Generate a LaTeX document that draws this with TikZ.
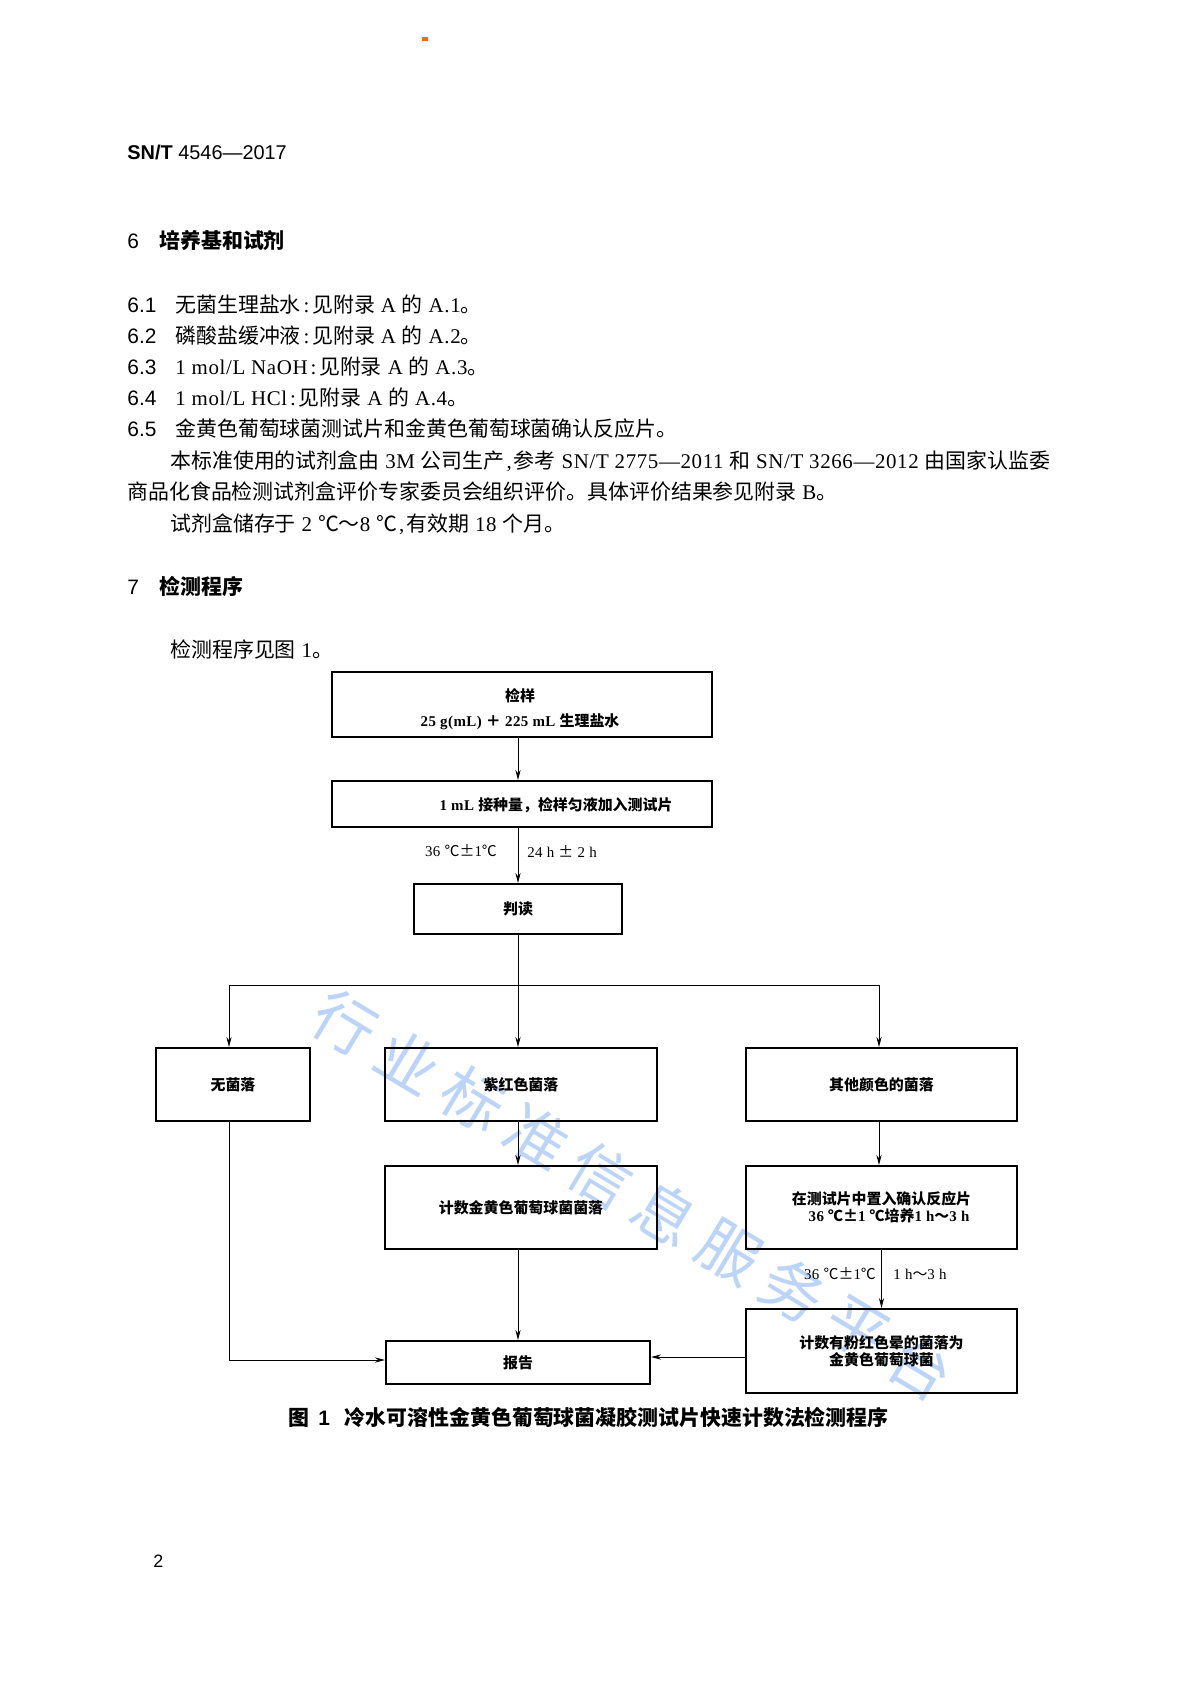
\documentclass[tikz,border=0pt]{standalone}
\usepackage{fontspec}
\setmainfont{Noto Sans CJK SC}
\newfontfamily\lser[LetterSpace=3]{Liberation Serif}
\newfontfamily\lsans{Liberation Sans}
\newcommand\lt[1]{{\lser #1}}
\newcommand\hcolon{\makebox[0.55em][c]{\lt{:}}}
\newcommand\hcomma{\makebox[0.45em][c]{\lt{,}}}
\usetikzlibrary{arrows.meta,calc}
\definecolor{wmcol}{RGB}{188,212,247}
\definecolor{markcol}{RGB}{255,102,20}
\newcommand\pxu{0.50206pt}
\begin{document}
\begin{tikzpicture}[x=0.17647mm,y=-0.17647mm,
 body/.style={anchor=base west, inner sep=0, font=\fontsize{10.5}{12}\selectfont},
 head/.style={anchor=base west, inner sep=0, font=\fontsize{10.5}{12}\selectfont\bfseries},
 num/.style={anchor=base west, inner sep=0, font=\fontsize{10.5}{12}\selectfont\lsans},
 box/.style={draw, line width=1pt, inner sep=0, font=\fontsize{7.5}{9}\selectfont\bfseries, align=center},
 lab/.style={inner sep=0, font=\fontsize{7.5}{9}\selectfont},
 conn/.style={line width=0.5pt},
 arr/.style={conn, -{Stealth[length=5pt,width=2.6pt]}},
 wmk/.style={inner sep=0, text=wmcol, font=\fontsize{31}{31}\selectfont, rotate=-31}]
\fill[white] (0,0) rectangle (1190,1683);
\useasboundingbox (0,0) rectangle (1190,1683);
% watermark
\foreach \c [count=\i from 0] in {行,业,标,准,信,息,服,务,平,台}
  \node[wmk] (wm\i) at ($(345,1023)+\i*(64,38.2)$) {\c};
% top mark
\fill[markcol] (422,37) rectangle (428,41);
% header
\node[anchor=base west, inner sep=0, font=\fontsize{10}{12}\selectfont\lsans] (hdr) at (127,160) {\textbf{SN/T} 4546—2017};
% section 6
\node[num] (n6) at (127,248) {6};
\node[head] (h6) at (159,248) {培养基和试剂};
\node[num] (n61) at (127,312) {6.1};
\node[body] (t61) at (175,312) {无菌生理盐水\hcolon 见附录\lt{ A }的\lt{ A.1}。};
\node[num] (n62) at (127,343) {6.2};
\node[body] (t62) at (175,343) {磷酸盐缓冲液\hcolon 见附录\lt{ A }的\lt{ A.2}。};
\node[num] (n63) at (127,374.5) {6.3};
\node[body] (t63) at (175,374.5) {\lt{1 mol/L NaOH}\hcolon 见附录\lt{ A }的\lt{ A.3}。};
\node[num] (n64) at (127,405.5) {6.4};
\node[body] (t64) at (175,405.5) {\lt{1 mol/L HCl}\hcolon 见附录\lt{ A }的\lt{ A.4}。};
\node[num] (n65) at (127,436.5) {6.5};
\node[body] (t65) at (175,436.5) {金黄色葡萄球菌测试片和金黄色葡萄球菌确认反应片。};
\node[body] (p1) at (170,468) {本标准使用的试剂盒由\lt{ 3M }公司生产\hcomma 参考\lt{ SN/T 2775—2011 }和\lt{ SN/T 3266—2012 }由国家认监委};
\node[body] (p2) at (127,499.5) {商品化食品检测试剂盒评价专家委员会组织评价。具体评价结果参见附录\lt{ B}。};
\node[body] (p3) at (170,531.5) {试剂盒储存于\lt{ 2 }℃～\lt{8 }℃\hcomma 有效期\lt{ 18 }个月。};
% section 7
\node[num] (n7) at (127,594) {7};
\node[head] (h7) at (159,594) {检测程序};
\node[body] (p4) at (170,657) {检测程序见图\lt{ 1}。};
% flowchart
\node[box, minimum width=380*\pxu, minimum height=65*\pxu] (b1) at (522,704.5) {};
\node[lab, align=center, font=\fontsize{7.5}{12.5}\selectfont\bfseries] (b1t) at (520,709) {检样\\\lt{25 g(mL) }＋\lt{ 225 mL }生理盐水};
\node[box, minimum width=380*\pxu, minimum height=46*\pxu] (b2) at (522,804) {};
\node[lab, font=\fontsize{7.5}{9}\selectfont\bfseries] (b2t) at (556,805) {\lt{1 mL }接种量，检样匀液加入测试片};
\node[box, minimum width=208*\pxu, minimum height=50*\pxu] (b3) at (518,909) {判读};
\coordinate (jL) at (229,985);
\coordinate (jM) at (518,985);
\coordinate (jR) at (879,985);
\node[box, minimum width=154*\pxu, minimum height=73*\pxu] (nb) at (233,1084.5) {无菌落};
\node[box, minimum width=272*\pxu, minimum height=73*\pxu] (zh) at (521,1084.5) {紫红色菌落};
\node[box, minimum width=271*\pxu, minimum height=73*\pxu] (qt) at (881.5,1084.5) {其他颜色的菌落};
\node[box, minimum width=272*\pxu, minimum height=83*\pxu] (js) at (521,1207.5) {计数金黄色葡萄球菌菌落};
\node[box, minimum width=271*\pxu, minimum height=83*\pxu, font=\fontsize{7.5}{8.6}\selectfont\bfseries] (zr) at (881.5,1207.5) {在测试片中置入确认反应片\\\hspace*{7.5pt}\lt{36 }℃±\lt{1 }℃培养\lt{1 h}～\lt{3 h}};
\node[box, minimum width=271*\pxu, minimum height=84*\pxu, font=\fontsize{7.5}{8.4}\selectfont\bfseries] (fh) at (881.5,1351) {计数有粉红色晕的菌落为\\金黄色葡萄球菌};
\node[box, minimum width=264*\pxu, minimum height=43*\pxu] (bg) at (518,1362.5) {报告};
% labels
\node[lab] (l1) at (461,851) {\lt{36 }℃±\lt{1}℃};
\node[lab] (l2) at (562,851) {\lt{24 h }±\lt{ 2 h}};
\node[lab] (l3) at (840,1274) {\lt{36 }℃±\lt{1}℃};
\node[lab] (l4) at (920,1274) {\lt{1 h}～\lt{3 h}};
% connectors
\draw[arr] (b1.south -| b3.center) -- (b2.north -| b3.center);
\draw[arr] (b2.south -| b3.center) -- (b3.north);
\draw[conn] (b3.south) -- (jM);
\draw[conn] (jL) -- (jR);
\draw[arr] (jL) -- (jL |- nb.north);
\draw[arr] (jM) -- (jM |- zh.north);
\draw[arr] (jR) -- (jR |- qt.north);
\draw[arr] (jR |- qt.south) -- (jR |- zr.north);
\draw[arr] (zh.south -| jM) -- (js.north -| jM);
\draw[arr] (zr.south) -- (fh.north);
\draw[arr] (js.south -| jM) -- (bg.north -| jM);
\coordinate (yL) at (0,1360);
\coordinate (yR) at (0,1357);
\draw[arr] (jL |- nb.south) -- (jL |- yL) -- (bg.west |- yL);
\draw[arr] (fh.west |- yR) -- (bg.east |- yR);
% caption
\node[anchor=base west, inner sep=0, font=\fontsize{10.5}{12}\selectfont\bfseries] (cap) at (288,1425) {图\hspace{4.5pt}{\lsans 1}\hspace{7.5pt}冷水可溶性金黄色葡萄球菌凝胶测试片快速计数法检测程序};
% page number
\node[anchor=base west, inner sep=0, font=\fontsize{9}{10}\selectfont\lsans] (pg) at (153,1567) {2};
\end{tikzpicture}
\end{document}
